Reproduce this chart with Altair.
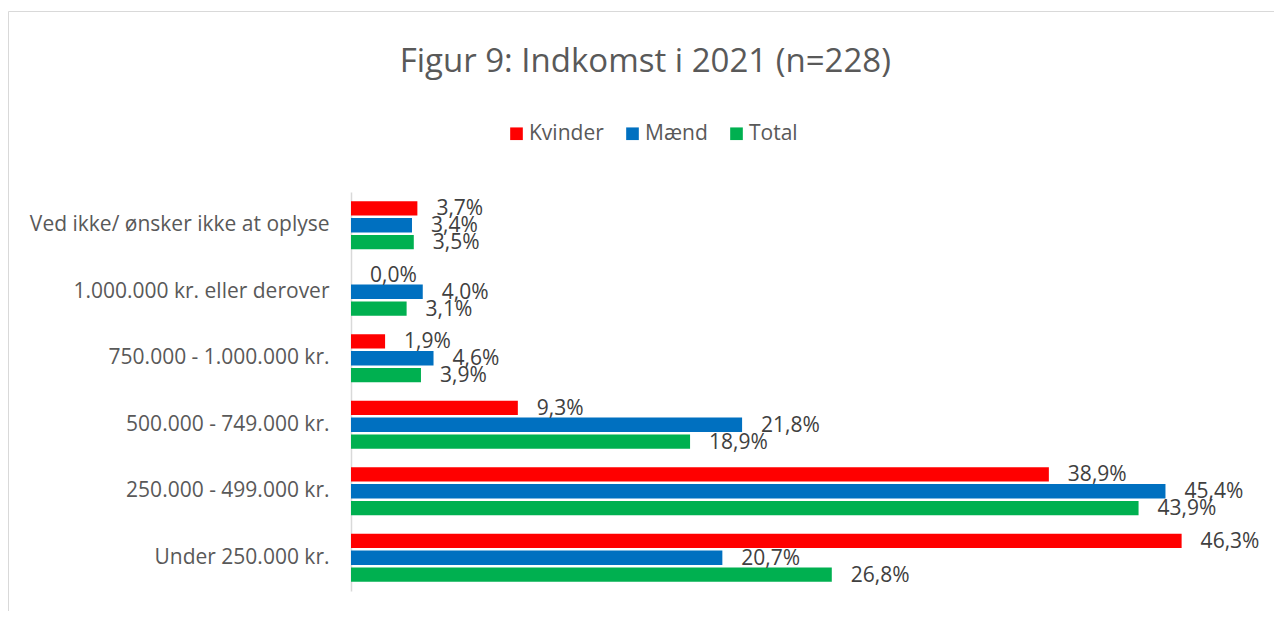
import altair as alt
import pandas as pd

categories = [
    "Ved ikke/ ønsker ikke at oplyse",
    "1.000.000 kr. eller derover",
    "750.000 - 1.000.000 kr.",
    "500.000 - 749.000 kr.",
    "250.000 - 499.000 kr.",
    "Under 250.000 kr.",
]
series = ["Kvinder", "Mænd", "Total"]
kvinder = [3.7, 0.0, 1.9, 9.3, 38.9, 46.3]
maend = [3.4, 4.0, 4.6, 21.8, 45.4, 20.7]
total = [3.5, 3.1, 3.9, 18.9, 43.9, 26.8]
colors = ["#FF0000", "#0070C0", "#00B050"]

rows = []
for s, vals in zip(series, [kvinder, maend, total]):
    for c, v in zip(categories, vals):
        rows.append({"kategori": c, "serie": s, "pct": v,
                     "label": f"{v:.1f}%".replace(".", ",")})
df = pd.DataFrame(rows)

FONT = "Open Sans"
W, H = 897, 399

y_enc = alt.Y("kategori:N", sort=categories,
              scale=alt.Scale(paddingInner=0.25, paddingOuter=0.125),
              axis=alt.Axis(title=None, labelFont=FONT, labelFontSize=21,
                            labelColor="#595959", labelPadding=22, ticks=False,
                            domainColor="#D9D9D9", domainWidth=1.5,
                            labelLimit=400))
yoff = alt.YOffset("serie:N", sort=series,
                   scale=alt.Scale(paddingInner=0.15, paddingOuter=0.05))
x_enc = alt.X("pct:Q", scale=alt.Scale(domain=[0, 50], nice=False), axis=None)

base = alt.Chart(df)

bars = base.mark_bar().encode(
    x=x_enc, y=y_enc, yOffset=yoff,
    color=alt.Color("serie:N", sort=series,
                    scale=alt.Scale(domain=series, range=colors),
                    legend=alt.Legend(title=None, orient="none", direction="horizontal",
                                      legendX=155, legendY=-69,
                                      symbolType="square", symbolSize=160,
                                      symbolStrokeWidth=0, labelFont=FONT,
                                      labelFontSize=21, labelColor="#595959",
                                      labelOffset=2, columnPadding=18, padding=0)),
)

labels = base.mark_text(align="left", baseline="middle", dx=19, dy=1,
                        font=FONT, fontSize=21, color="#404040").encode(
    x=x_enc, y=alt.Y("kategori:N", sort=categories), yOffset=yoff,
    text="label:N",
)

frame_df = pd.DataFrame({"a": [0]})
top_rule = alt.Chart(frame_df).mark_rule(color="#D9D9D9", strokeWidth=1).encode(
    x=alt.value(-342.5), x2=alt.value(923), y=alt.value(-180.5))
left_rule = alt.Chart(frame_df).mark_rule(color="#D9D9D9", strokeWidth=1).encode(
    x=alt.value(-342.5), y=alt.value(-180.5), y2=alt.value(425))

chart = alt.layer(bars, labels, top_rule, left_rule).properties(
    width=W, height=H,
    title=alt.TitleParams("Figur 9: Indkomst i 2021 (n=228)", font=FONT, fontSize=33,
                          fontWeight="normal", color="#595959", anchor="middle",
                          frame="bounds", baseline="alphabetic", offset=-94, dx=4),
    autosize=alt.AutoSizeParams(type="none"),
    padding={"left": 343, "top": 184, "right": 26, "bottom": 20},
).configure_view(stroke=None)

chart.save("out.html", embed_options={"renderer": "svg", "actions": False})
